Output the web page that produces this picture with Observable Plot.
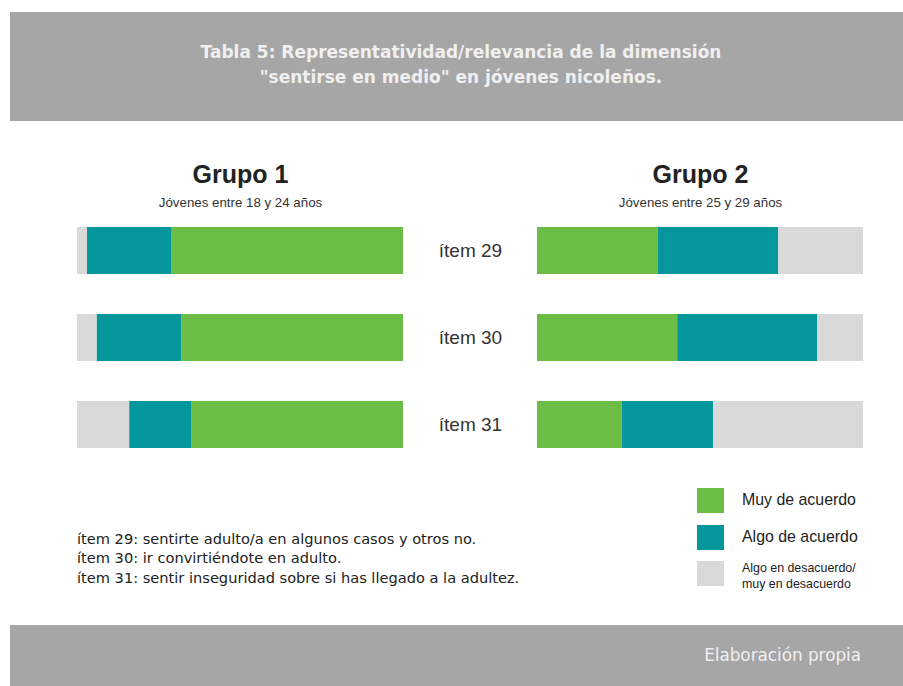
<!DOCTYPE html>
<html><head><meta charset="utf-8">
<script src="https://cdn.jsdelivr.net/npm/d3@7"></script>
<script src="https://cdn.jsdelivr.net/npm/@observablehq/plot@0.6"></script>
<style>
body{margin:0;background:#fff;width:903px;height:686px;overflow:hidden;position:relative;font-family:"Liberation Sans",Arial,sans-serif;}
#header{position:absolute;left:10px;top:12px;width:893px;height:109px;background:#a6a6a6;}
#header div{position:absolute;left:9px;width:884px;text-align:center;color:#f0f0f0;font-family:"DejaVu Sans",sans-serif;font-weight:bold;font-size:17px;line-height:20px;white-space:nowrap;}
#chart{position:absolute;left:0;top:121px;}
#notes div{position:absolute;left:77px;font-family:"DejaVu Sans",sans-serif;font-size:14.6px;line-height:19px;color:#222;white-space:nowrap;}
.sw{position:absolute;left:697px;width:27px;height:25px;}
.lt{position:absolute;left:742px;color:#222;white-space:nowrap;}
#footer{position:absolute;left:10px;top:625px;width:893px;height:61px;background:#a6a6a6;}
#footer div{position:absolute;right:42px;top:20px;color:#f0f0f0;font-family:"DejaVu Sans",sans-serif;font-size:16.8px;line-height:20px;white-space:nowrap;}
</style>
</head><body>
<div id="header"></div>
<div id="chart"></div>
<div id="notes"></div>
<div id="legend"></div>
<div id="footer"></div>
<script>
const titleLines = ["Tabla 5: Representatividad/relevancia de la dimensión", "\"sentirse en medio\" en jóvenes nicoleños."];
const items = ["ítem 29", "ítem 30", "ítem 31"];
const groups = ["Grupo 1", "Grupo 2"];
const subtitles = ["Jóvenes entre 18 y 24 años", "Jóvenes entre 25 y 29 años"];
const categories = ["Muy de acuerdo", "Algo de acuerdo", "Algo en desacuerdo/ muy en desacuerdo"];
const legendLabels = [["Muy de acuerdo"], ["Algo de acuerdo"], ["Algo en desacuerdo/", "muy en desacuerdo"]];
const colors = ["#6bbd45", "#05979b", "#d9d9d9"];
// Grupo 1 values (%), per item
const g1Muy = [71, 68, 65];
const g1Algo = [26, 26, 19];
const g1Des = [3, 6, 16];
// Grupo 2 values (%), per item
const g2Muy = [37, 43, 26];
const g2Algo = [37, 43, 28];
const g2Des = [26, 14, 46];
const notes = [
  "ítem 29: sentirte adulto/a en algunos casos y otros no.",
  "ítem 30: ir convirtiéndote en adulto.",
  "ítem 31: sentir inseguridad sobre si has llegado a la adultez."
];
const footerText = "Elaboración propia";

// header
const header = document.getElementById("header");
titleLines.forEach((t, i) => {
  const d = document.createElement("div");
  d.textContent = t;
  d.style.top = (30 + i * 25) + "px";
  header.appendChild(d);
});
// footer
const fd = document.createElement("div");
fd.textContent = footerText;
document.getElementById("footer").appendChild(fd);

function rows(group, series) {
  return items.flatMap((item, i) => categories.map((cat, j) => ({group, item, cat, value: series[j][i]})));
}
const rows1 = rows("Grupo 1", [g1Muy, g1Algo, g1Des]);
const rows2 = rows("Grupo 2", [g2Muy, g2Algo, g2Des]);

const plot = Plot.plot({
  width: 903,
  height: 348,
  marginLeft: 77,
  marginRight: 39,
  marginTop: 105,
  marginBottom: 19,
  style: {fontFamily: "'Liberation Sans', Arial, sans-serif", background: "transparent", overflow: "visible"},
  x: {domain: [0, 100], axis: null},
  y: {domain: items, axis: null, paddingInner: 0.4545, paddingOuter: 0},
  fx: {domain: groups, axis: null, paddingInner: 0.2913, paddingOuter: 0},
  color: {domain: categories, range: colors},
  marks: [
    Plot.barX(rows1, Plot.stackX({x: "value", y: "item", fx: "group", fill: "cat", order: [categories[2], categories[1], categories[0]]})),
    Plot.barX(rows2, Plot.stackX({x: "value", y: "item", fx: "group", fill: "cat", order: categories})),
    Plot.text(groups, {fx: d => d, text: d => d, frameAnchor: "top", textAnchor: "middle", lineAnchor: "middle", dy: -52, fontSize: 25, fontWeight: "bold", fill: "#222"}),
    Plot.text(groups, {fx: d => d, text: (d, i) => subtitles[i], frameAnchor: "top", textAnchor: "middle", lineAnchor: "middle", dy: -24, fontSize: 13.3, fill: "#333"}),
    Plot.text(items, {fx: () => "Grupo 1", y: d => d, text: d => d, frameAnchor: "right", textAnchor: "middle", lineAnchor: "middle", dx: 67, dy: 0, fontSize: 19, fill: "#333"})
  ]
});
document.getElementById("chart").appendChild(plot);

// notes
const notesEl = document.getElementById("notes");
notes.forEach((n, i) => {
  const d = document.createElement("div");
  d.textContent = n;
  d.style.top = (529 + i * 19.3) + "px";
  notesEl.appendChild(d);
});

// legend
const legendEl = document.getElementById("legend");
const swTops = [488, 525, 561];
legendLabels.forEach((lines, i) => {
  const s = document.createElement("div");
  s.className = "sw";
  s.style.top = swTops[i] + "px";
  s.style.background = colors[i];
  legendEl.appendChild(s);
  const t = document.createElement("div");
  t.className = "lt";
  if (lines.length === 1) {
    t.style.fontSize = "15.9px";
    t.style.lineHeight = "20px";
    t.style.top = (swTops[i] + 2) + "px";
  } else {
    t.style.fontSize = "12.4px";
    t.style.lineHeight = "16px";
    t.style.top = (swTops[i] - 1) + "px";
  }
  t.innerHTML = lines.map(l => l.replace(/&/g, "&amp;")).join("<br>");
  legendEl.appendChild(t);
});
</script>
</body></html>
